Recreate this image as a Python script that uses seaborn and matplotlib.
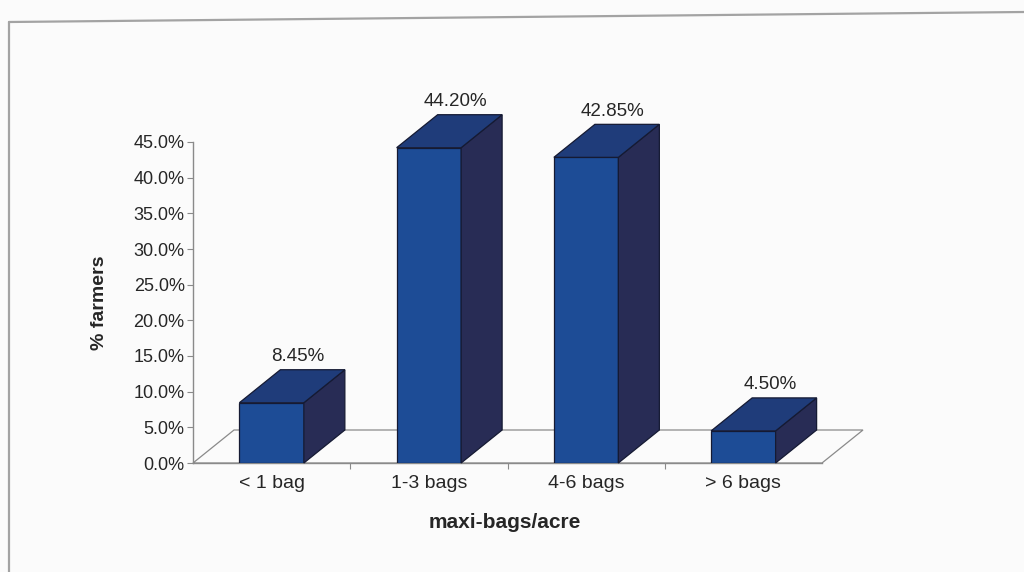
import matplotlib
matplotlib.use("Agg")
import matplotlib.pyplot as plt
from matplotlib.patches import Polygon
from matplotlib.lines import Line2D
import seaborn as sns
import pandas as pd

# Share of farmers by maxi-bags applied per acre
categories = ["< 1 bag", "1-3 bags", "4-6 bags", "> 6 bags"]
pct_farmers = [8.45, 44.20, 42.85, 4.50]
value_labels = ["8.45%", "44.20%", "42.85%", "4.50%"]
y_ticks = [0, 5, 10, 15, 20, 25, 30, 35, 40, 45]
y_tick_labels = ["0.0%", "5.0%", "10.0%", "15.0%", "20.0%", "25.0%",
                 "30.0%", "35.0%", "40.0%", "45.0%"]

sns.set_theme(style="white")
plt.rcParams["font.family"] = ["Liberation Sans", "DejaVu Sans"]

W, H = 1024, 572
BG = "#fbfbfb"
FRONT = "#1d4c96"
TOP = "#1f3c7a"
SIDE = "#282c55"
EDGE = "#151a33"
TXT = "#262626"
GRID = "#8a8a8a"

fig = plt.figure(figsize=(W / 100, H / 100), dpi=100, facecolor=BG)


def fx(px):
    return px / W


def fy(py):
    return 1 - py / H


ax_left, ax_right, ax_top, ax_bottom = 193, 822, 142, 463
ax = fig.add_axes([fx(ax_left), fy(ax_bottom), (ax_right - ax_left) / W,
                   (ax_bottom - ax_top) / H])
ax.set_facecolor("none")

df = pd.DataFrame({"bags": categories, "pct": pct_farmers})
sns.barplot(data=df, x="bags", y="pct", color=FRONT, saturation=1,
            width=0.41, edgecolor=EDGE, linewidth=0.9, ax=ax, zorder=3)

ax.set_xlim(-0.5, 3.5)
ax.set_ylim(0, 45)

# depth offset of the 3D extrusion, in screen pixels
depth_px = (41, -33)
x_unit = (ax_right - ax_left) / 4.0
y_unit = (ax_bottom - ax_top) / 45.0
ddx = depth_px[0] / x_unit
ddy = -depth_px[1] / y_unit

# floor outline
floor = Polygon([(-0.5, 0), (3.5, 0), (3.5 + ddx, ddy), (-0.5 + ddx, ddy)],
                closed=True, facecolor="none", edgecolor=GRID, linewidth=0.9,
                clip_on=False, zorder=1)
ax.add_patch(floor)

# top and side faces of each column
for patch, lab in zip(ax.patches[:len(categories)], value_labels):
    x0 = patch.get_x()
    w = patch.get_width()
    h = patch.get_height()
    x1 = x0 + w
    top = Polygon([(x0, h), (x1, h), (x1 + ddx, h + ddy), (x0 + ddx, h + ddy)],
                  closed=True, facecolor=TOP, edgecolor=EDGE, linewidth=0.9,
                  clip_on=False, zorder=4)
    side = Polygon([(x1, 0), (x1 + ddx, ddy), (x1 + ddx, h + ddy), (x1, h)],
                   closed=True, facecolor=SIDE, edgecolor=EDGE, linewidth=0.9,
                   clip_on=False, zorder=4)
    ax.add_patch(side)
    ax.add_patch(top)
    ax.annotate(lab, xy=(x0 + w / 2 + ddx / 2, h + ddy),
                xytext=(6, 13), textcoords="offset pixels",
                ha="center", va="center", fontsize=13.5, color=TXT,
                annotation_clip=False)

# axes styling
for s in ("top", "right"):
    ax.spines[s].set_visible(False)
ax.spines["left"].set_color(GRID)
ax.spines["bottom"].set_color(GRID)
ax.spines["left"].set_linewidth(1.0)
ax.spines["bottom"].set_linewidth(1.0)

ax.set_yticks(y_ticks)
ax.set_yticklabels(y_tick_labels)
ax.tick_params(axis="y", which="major", left=True, length=4, width=0.8,
               color=GRID, pad=2, labelsize=13, labelcolor=TXT)
ax.tick_params(axis="x", which="major", length=0, pad=9, labelsize=14,
               labelcolor=TXT)
ax.set_xticks([0.5, 1.5, 2.5], minor=True)
ax.tick_params(axis="x", which="minor", bottom=True, length=4, width=0.8,
               color=GRID, direction="out")
ax.set_xlabel("")
ax.set_ylabel("")

fig.text(fx(100), fy(303), "% farmers", rotation=90, ha="center", va="center",
         fontsize=14, fontweight="bold", color=TXT)
fig.text(fx(505), fy(523), "maxi-bags/acre", ha="center", va="center",
         fontsize=15, fontweight="bold", color=TXT)

# outer frame
fig.add_artist(Line2D([fx(9), fx(1024)], [fy(22), fy(12)], color="#a3a3a3",
                      linewidth=1.6, transform=fig.transFigure))
fig.add_artist(Line2D([fx(9), fx(9)], [fy(22), fy(572)], color="#a3a3a3",
                      linewidth=1.6, transform=fig.transFigure))

fig.savefig("out.png", dpi=100, facecolor=BG)
